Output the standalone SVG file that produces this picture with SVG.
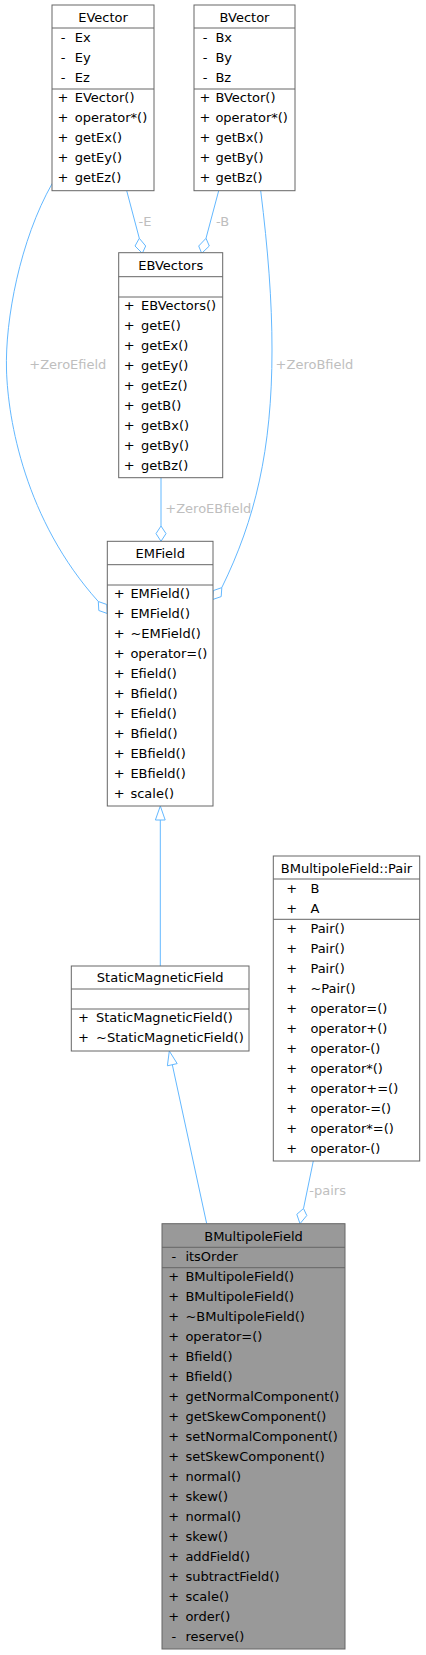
<svg xmlns="http://www.w3.org/2000/svg" width="426" height="1655" viewBox="0 0 426 1655">
<style>
text{font-family:"DejaVu Sans","Liberation Sans",sans-serif;font-size:13px;fill:#000}
.box{fill:#fff;stroke:#666;stroke-width:1}
.cur{fill:#999;stroke:#666;stroke-width:1}
.div{stroke:#666;stroke-width:1}
.h{text-anchor:middle}
.s{text-anchor:middle}
.e{fill:none;stroke:#63b8ff;stroke-width:1}
.dia{fill:#fff;stroke:#63b8ff;stroke-width:1}
.lbl{fill:#bebebe}
</style>
<g id="connectors">
<path class="e" d="M126.7,190.7 L139.3,238.3"/>
<polygon class="dia" points="139.3,238.3 145.7,246 142.3,253.3 135,246"/>
<text class="lbl" x="138.6" y="225.5">-E</text>
<path class="e" d="M218.7,190.7 L206,238.3"/>
<polygon class="dia" points="206,238.3 209.3,246 201.7,253.3 198.7,246"/>
<text class="lbl" x="216" y="225.5">-B</text>
<path class="e" d="M52.3,183.3 C20,240 5,320 6.5,370 C8,420 25,520 98.3,601.5"/>
<polygon class="dia" points="98.3,601.5 106.8,604.5 107.3,613.5 98.8,610.5"/>
<text class="lbl" x="29.3" y="369.3">+ZeroEfield</text>
<path class="e" d="M260.7,190.7 C268,250 272,300 272,350 C272,450 255,520 221.8,587.6"/>
<polygon class="dia" points="221.8,587.6 221.2,596.6 212.7,599.5 213.3,590.6"/>
<text class="lbl" x="275.6" y="369.3">+ZeroBfield</text>
<path class="e" d="M161,477.7 L161,526"/>
<polygon class="dia" points="161,526 166,533.6 161,541.3 156,533.6"/>
<text class="lbl" x="165.3" y="512.7">+ZeroEBfield</text>
<path class="e" d="M160.3,966 L160.3,820"/>
<polygon class="dia" points="160.3,806 165.2,820 155.4,820"/>
<path class="e" d="M206.7,1223.7 L172.3,1064.7"/>
<polygon class="dia" points="169.3,1051 177.2,1063.6 167.4,1065.8"/>
<path class="e" d="M313.3,1161 L303.5,1208.5"/>
<polygon class="dia" points="303.5,1208.5 306.8,1215.5 300,1223.7 296.8,1214.3"/>
<text class="lbl" x="309.3" y="1195">-pairs</text>
</g>
<g id="EVector">
<rect class="box" x="52" y="5" width="102" height="185.7"/>
<line class="div" x1="52" y1="28" x2="154" y2="28"/>
<line class="div" x1="52" y1="89" x2="154" y2="89"/>
<text class="h" x="103" y="22">EVector</text>
<text class="s" x="63" y="42.3">-</text><text x="74.7" y="42.3">Ex</text>
<text class="s" x="63" y="62.3">-</text><text x="74.7" y="62.3">Ey</text>
<text class="s" x="63" y="82.3">-</text><text x="74.7" y="82.3">Ez</text>
<text class="s" x="63" y="102.3">+</text><text x="74.7" y="102.3">EVector()</text>
<text class="s" x="63" y="122.3">+</text><text x="74.7" y="122.3">operator*()</text>
<text class="s" x="63" y="142.3">+</text><text x="74.7" y="142.3">getEx()</text>
<text class="s" x="63" y="162.3">+</text><text x="74.7" y="162.3">getEy()</text>
<text class="s" x="63" y="182.3">+</text><text x="74.7" y="182.3">getEz()</text>
</g>
<g id="BVector">
<rect class="box" x="194" y="5" width="101" height="185.7"/>
<line class="div" x1="194" y1="28" x2="295" y2="28"/>
<line class="div" x1="194" y1="89" x2="295" y2="89"/>
<text class="h" x="244.5" y="22">BVector</text>
<text class="s" x="205" y="42.3">-</text><text x="215.4" y="42.3">Bx</text>
<text class="s" x="205" y="62.3">-</text><text x="215.4" y="62.3">By</text>
<text class="s" x="205" y="82.3">-</text><text x="215.4" y="82.3">Bz</text>
<text class="s" x="205" y="102.3">+</text><text x="215.4" y="102.3">BVector()</text>
<text class="s" x="205" y="122.3">+</text><text x="215.4" y="122.3">operator*()</text>
<text class="s" x="205" y="142.3">+</text><text x="215.4" y="142.3">getBx()</text>
<text class="s" x="205" y="162.3">+</text><text x="215.4" y="162.3">getBy()</text>
<text class="s" x="205" y="182.3">+</text><text x="215.4" y="182.3">getBz()</text>
</g>
<g id="EBVectors">
<rect class="box" x="118.7" y="252.7" width="104" height="225"/>
<line class="div" x1="118.7" y1="276.7" x2="222.7" y2="276.7"/>
<line class="div" x1="118.7" y1="297" x2="222.7" y2="297"/>
<text class="h" x="170.7" y="270">EBVectors</text>
<text class="s" x="129.2" y="310.3">+</text><text x="141" y="310.3">EBVectors()</text>
<text class="s" x="129.2" y="330.3">+</text><text x="141" y="330.3">getE()</text>
<text class="s" x="129.2" y="350.3">+</text><text x="141" y="350.3">getEx()</text>
<text class="s" x="129.2" y="370.3">+</text><text x="141" y="370.3">getEy()</text>
<text class="s" x="129.2" y="390.3">+</text><text x="141" y="390.3">getEz()</text>
<text class="s" x="129.2" y="410.3">+</text><text x="141" y="410.3">getB()</text>
<text class="s" x="129.2" y="430.3">+</text><text x="141" y="430.3">getBx()</text>
<text class="s" x="129.2" y="450.3">+</text><text x="141" y="450.3">getBy()</text>
<text class="s" x="129.2" y="470.3">+</text><text x="141" y="470.3">getBz()</text>
</g>
<g id="EMField">
<rect class="box" x="107.3" y="541.3" width="105.7" height="264.7"/>
<line class="div" x1="107.3" y1="564.7" x2="213" y2="564.7"/>
<line class="div" x1="107.3" y1="585" x2="213" y2="585"/>
<text class="h" x="160.2" y="557.5">EMField</text>
<text class="s" x="119.2" y="598.2">+</text><text x="130.4" y="598.2">EMField()</text>
<text class="s" x="119.2" y="618.2">+</text><text x="130.4" y="618.2">EMField()</text>
<text class="s" x="119.2" y="638.2">+</text><text x="130.4" y="638.2">~EMField()</text>
<text class="s" x="119.2" y="658.2">+</text><text x="130.4" y="658.2">operator=()</text>
<text class="s" x="119.2" y="678.2">+</text><text x="130.4" y="678.2">Efield()</text>
<text class="s" x="119.2" y="698.2">+</text><text x="130.4" y="698.2">Bfield()</text>
<text class="s" x="119.2" y="718.2">+</text><text x="130.4" y="718.2">Efield()</text>
<text class="s" x="119.2" y="738.2">+</text><text x="130.4" y="738.2">Bfield()</text>
<text class="s" x="119.2" y="758.2">+</text><text x="130.4" y="758.2">EBfield()</text>
<text class="s" x="119.2" y="778.2">+</text><text x="130.4" y="778.2">EBfield()</text>
<text class="s" x="119.2" y="798.2">+</text><text x="130.4" y="798.2">scale()</text>
</g>
<g id="StaticMagneticField">
<rect class="box" x="71.3" y="966" width="177.7" height="85"/>
<line class="div" x1="71.3" y1="989" x2="249" y2="989"/>
<line class="div" x1="71.3" y1="1009" x2="249" y2="1009"/>
<text class="h" x="160.2" y="982.3">StaticMagneticField</text>
<text class="s" x="83.5" y="1022">+</text><text x="96" y="1022">StaticMagneticField()</text>
<text class="s" x="83.5" y="1042">+</text><text x="96" y="1042">~StaticMagneticField()</text>
</g>
<g id="BMultipoleField_Pair">
<rect class="box" x="273.3" y="856" width="146.4" height="305"/>
<line class="div" x1="273.3" y1="879" x2="419.7" y2="879"/>
<line class="div" x1="273.3" y1="919.3" x2="419.7" y2="919.3"/>
<text class="h" x="346.5" y="873.3">BMultipoleField::Pair</text>
<text class="s" x="291.7" y="892.8">+</text><text x="310.4" y="892.8">B</text>
<text class="s" x="291.7" y="912.8">+</text><text x="310.4" y="912.8">A</text>
<text class="s" x="291.7" y="932.7">+</text><text x="310.4" y="932.7">Pair()</text>
<text class="s" x="291.7" y="952.7">+</text><text x="310.4" y="952.7">Pair()</text>
<text class="s" x="291.7" y="972.7">+</text><text x="310.4" y="972.7">Pair()</text>
<text class="s" x="291.7" y="992.7">+</text><text x="310.4" y="992.7">~Pair()</text>
<text class="s" x="291.7" y="1012.7">+</text><text x="310.4" y="1012.7">operator=()</text>
<text class="s" x="291.7" y="1032.7">+</text><text x="310.4" y="1032.7">operator+()</text>
<text class="s" x="291.7" y="1052.7">+</text><text x="310.4" y="1052.7">operator-()</text>
<text class="s" x="291.7" y="1072.7">+</text><text x="310.4" y="1072.7">operator*()</text>
<text class="s" x="291.7" y="1092.7">+</text><text x="310.4" y="1092.7">operator+=()</text>
<text class="s" x="291.7" y="1112.7">+</text><text x="310.4" y="1112.7">operator-=()</text>
<text class="s" x="291.7" y="1132.7">+</text><text x="310.4" y="1132.7">operator*=()</text>
<text class="s" x="291.7" y="1152.7">+</text><text x="310.4" y="1152.7">operator-()</text>
</g>
<g id="BMultipoleField">
<rect class="cur" x="162" y="1223.7" width="183" height="425.3"/>
<line class="div" x1="162" y1="1247.3" x2="345" y2="1247.3"/>
<line class="div" x1="162" y1="1267.7" x2="345" y2="1267.7"/>
<text class="h" x="253.5" y="1241">BMultipoleField</text>
<text class="s" x="173.8" y="1261">-</text><text x="185.4" y="1261">itsOrder</text>
<text class="s" x="173.8" y="1281">+</text><text x="185.4" y="1281">BMultipoleField()</text>
<text class="s" x="173.8" y="1301">+</text><text x="185.4" y="1301">BMultipoleField()</text>
<text class="s" x="173.8" y="1321">+</text><text x="185.4" y="1321">~BMultipoleField()</text>
<text class="s" x="173.8" y="1341">+</text><text x="185.4" y="1341">operator=()</text>
<text class="s" x="173.8" y="1361">+</text><text x="185.4" y="1361">Bfield()</text>
<text class="s" x="173.8" y="1381">+</text><text x="185.4" y="1381">Bfield()</text>
<text class="s" x="173.8" y="1401">+</text><text x="185.4" y="1401">getNormalComponent()</text>
<text class="s" x="173.8" y="1421">+</text><text x="185.4" y="1421">getSkewComponent()</text>
<text class="s" x="173.8" y="1441">+</text><text x="185.4" y="1441">setNormalComponent()</text>
<text class="s" x="173.8" y="1461">+</text><text x="185.4" y="1461">setSkewComponent()</text>
<text class="s" x="173.8" y="1481">+</text><text x="185.4" y="1481">normal()</text>
<text class="s" x="173.8" y="1501">+</text><text x="185.4" y="1501">skew()</text>
<text class="s" x="173.8" y="1521">+</text><text x="185.4" y="1521">normal()</text>
<text class="s" x="173.8" y="1541">+</text><text x="185.4" y="1541">skew()</text>
<text class="s" x="173.8" y="1561">+</text><text x="185.4" y="1561">addField()</text>
<text class="s" x="173.8" y="1581">+</text><text x="185.4" y="1581">subtractField()</text>
<text class="s" x="173.8" y="1601">+</text><text x="185.4" y="1601">scale()</text>
<text class="s" x="173.8" y="1621">+</text><text x="185.4" y="1621">order()</text>
<text class="s" x="173.8" y="1641">-</text><text x="185.4" y="1641">reserve()</text>
</g>
</svg>
